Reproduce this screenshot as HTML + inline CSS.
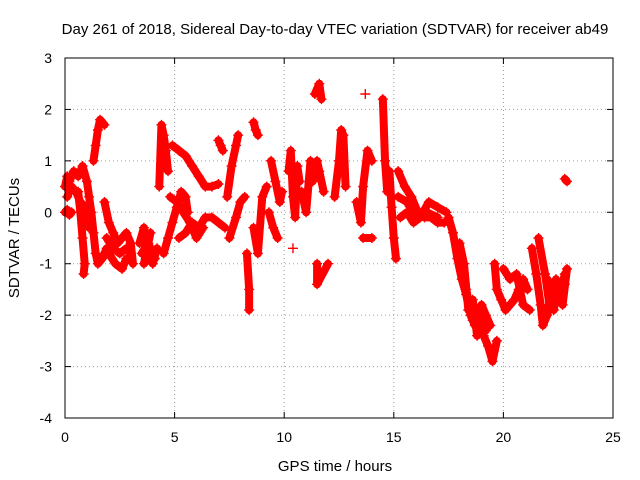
<!DOCTYPE html>
<html><head><meta charset="utf-8"><style>
body{margin:0;background:#fff;}
svg{display:block;font-family:"Liberation Sans",sans-serif;}
</style></head><body>
<svg id="c" width="640" height="480">
<text x="335" y="34" font-size="15" text-anchor="middle">Day 261 of 2018, Sidereal Day-to-day VTEC variation (SDTVAR) for receiver ab49</text>
<text x="335" y="471" font-size="15" text-anchor="middle">GPS time / hours</text>
<text x="19" y="238" font-size="15" text-anchor="middle" transform="rotate(-90 19 238)">SDTVAR / TECUs</text>
<g id="grid"></g><g id="marks"></g>
<rect x="65" y="58" width="548" height="360" fill="none" stroke="#000"/>
</svg>
<script>
const xTicks=[0,5,10,15,20,25];
const yTicks=[3,2,1,0,-1,-2,-3,-4];
const tracksX=[
[0,0.1,0.2,0.3],
[0,0.1,0.2,0.4,0.6,0.8,1.0,1.1,1.2,1.3,1.4,1.5,1.7,1.9],
[0.1,0.3,0.5,0.7,0.9,1.1],
[0.6,0.7,0.8,0.9,0.85],
[1.3,1.4,1.5,1.6,1.8],
[1.8,2.0,2.2,2.4,2.6,2.8,3.0,3.1],
[2.0,2.3,2.6,2.8],
[1.9,2.2,2.5,2.8,3.0],
[3.4,3.6,3.8,4.0,4.2,3.6,3.9],
[3.5,3.8,4.1],
[4.3,4.4,4.5,4.6,4.7],
[4.5,4.7,4.9,5.1,5.3,5.5,5.6],
[4.9,5.2,5.5,5.8,6.1,6.4,6.7,7.0],
[5.2,5.5,5.8,6.1,6.4,6.7,7.0,7.3],
[4.8,5.1,5.4,5.7,6.0,6.3],
[7.0,7.1,7.2],
[7.4,7.6,7.8,7.9],
[7.5,7.8,8.0,8.2],
[8.3,8.4,8.4],
[8.6,8.7,8.8],
[8.6,8.8,9.0,9.2],
[9.4,9.6,9.8,9.9],
[9.3,9.5,9.7],
[10.2,10.3,10.4,10.5,10.6,10.7],
[10.4],
[10.8,11.0,11.2],
[11.4,11.6,11.7],
[11.3,11.5,11.6,11.8],
[11.5,11.5,12.0],
[12.3,12.5,12.6,12.7,12.8],
[13.3,13.5,13.6,13.8,14.0],
[13.7],[13.6,14.0],
[14.5,14.6,14.7,14.8,14.9,15.0,15.1],
[15.2,15.5,15.8,16.1,16.4,16.7,17.0,17.3],
[15.3,15.6,15.9,16.2,16.6,17.0,17.4],
[15.2,15.6,16.0,16.5,17.0],
[17.5,17.7,17.9,18.1,18.3,18.5,18.7,18.9,19.1,19.3,19.5,19.7],
[18.0,18.2,18.4,18.6,18.8,19.0,19.2,19.4],
[18.3,18.6,18.9,19.2],
[19.6,19.7,19.9,20.1,20.3,20.5,20.7,20.9,21.1],
[20.0,20.3,20.6,20.9,21.2],
[21.3,21.5,21.7,21.8,22.0,22.2,22.4,22.6,22.8],
[21.6,21.9,22.1,22.3,22.5,22.7,22.9],
[22.0,22.4,22.8],
[22.8,22.9]
];
const tracksY=[
[0,0.05,-0.05,0],
[0.5,0.7,0.6,0.8,0.7,0.9,0.6,0.3,0.0,-0.4,-0.8,-1.0,-0.9,-0.7],
[0.3,0.5,0.4,0.2,0.1,-0.3],
[0.4,0.0,-0.5,-1.0,-1.2],
[1.0,1.3,1.6,1.8,1.7],
[0.2,-0.2,-0.4,-0.6,-0.5,-0.4,-0.6,-1.0],
[-0.8,-1.0,-1.1,-0.9],
[-0.5,-0.7,-0.8,-0.7,-0.8],
[-0.6,-0.3,-0.8,-1.0,-0.7,-1.0,-0.4],
[-0.8,-0.6,-0.9],
[0.5,1.7,1.5,1.2,0.8],
[-0.8,-0.5,-0.2,0.1,0.4,0.3,0.0],
[1.3,1.2,1.1,0.9,0.7,0.5,0.5,0.55],
[-0.5,-0.4,-0.2,-0.3,-0.1,-0.1,-0.2,-0.3],
[0.3,0.2,0.0,-0.2,-0.5,-0.3],
[1.4,1.3,1.2],
[0.3,0.9,1.3,1.5],
[-0.5,-0.1,0.2,0.3],
[-0.8,-1.5,-1.9],
[1.75,1.6,1.5],
[-0.3,-0.8,0.3,0.5],
[1.0,0.6,0.2,0.4],
[0.0,-0.3,-0.5],
[0.8,1.2,0.3,-0.1,0.9,0.6],
[-0.7],
[0.4,0.0,1.0],
[2.3,2.5,2.2],
[0.6,1.0,0.8,0.4],
[-1.0,-1.4,-1.0],
[0.3,1.0,1.6,1.5,0.5],
[0.2,-0.2,0.5,1.2,1.0],
[2.3],[-0.5,-0.5],
[2.2,1.0,0.4,0.8,0.1,-0.5,-0.9],
[0.8,0.5,0.3,0.0,-0.1,-0.1,-0.2,-0.2],
[-0.1,0.0,-0.2,-0.1,0.2,0.1,0.0],
[0.3,0.2,-0.1,0.0,-0.1],
[-0.1,-0.4,-0.9,-1.3,-1.6,-2.0,-2.2,-2.1,-2.4,-2.6,-2.9,-2.5],
[-0.6,-1.0,-1.9,-1.7,-2.4,-1.8,-2.0,-2.2],
[-1.5,-2.1,-1.9,-2.3],
[-1.0,-1.5,-1.7,-1.9,-1.8,-1.7,-1.5,-1.3,-1.5],
[-1.1,-1.3,-1.2,-1.8,-1.9],
[-0.7,-1.2,-1.8,-2.2,-2.0,-1.5,-1.3,-1.6,-1.2],
[-0.5,-1.2,-1.8,-1.9,-1.4,-1.8,-1.1],
[-1.3,-1.6,-1.4],
[0.65,0.6]
];
const NS='http://www.w3.org/2000/svg';
const sx=v=>65+v*21.92, sy=v=>58+(3-v)*51.43;
const g=document.getElementById('grid'), m=document.getElementById('marks');
function el(t,a,p){const e=document.createElementNS(NS,t);for(const k in a)e.setAttribute(k,a[k]);p.appendChild(e);return e;}
xTicks.forEach(t=>{
 if(t>0&&t<25){const l=el('line',{x1:sx(t),x2:sx(t),y1:58,y2:418,stroke:'#a0a0a0','stroke-dasharray':'1,3'},g);
 
 }
 el('line',{x1:sx(t),x2:sx(t),y1:418,y2:412,stroke:'#000'},g);
 el('line',{x1:sx(t),x2:sx(t),y1:58,y2:64,stroke:'#000'},g);
 const tx=el('text',{x:sx(t),y:442,'font-size':14,'text-anchor':'middle'},g);tx.textContent=t;
 
 
});
yTicks.forEach(t=>{
 if(t<3&&t>-4){const l=el('line',{x1:65,x2:613,y1:sy(t),y2:sy(t),stroke:'#a0a0a0','stroke-dasharray':'1,3'},g);
 
 }
 el('line',{x1:65,x2:71,y1:sy(t),y2:sy(t),stroke:'#000'},g);
 el('line',{x1:607,x2:613,y1:sy(t),y2:sy(t),stroke:'#000'},g);
 const tx=el('text',{x:52,y:sy(t)+5,'font-size':14,'text-anchor':'end'},g);tx.textContent=t;
 
 
});
tracksX.forEach((xs,i)=>{
 const ys=tracksY[i];
 const pts=xs.map((x,j)=>sx(x)+','+sy(ys[j])).join(' ');
 if(xs.length>1){const pl=el('polyline',{points:pts,fill:'none',stroke:'#f00','stroke-width':8,'stroke-linejoin':'round','stroke-linecap':'round'},m);
 
 }
 xs.forEach((x,j)=>{
  const X=sx(x),Y=sy(ys[j]);
  const p=el('path',{d:`M${X-5},${Y}h10M${X},${Y-5}v10`,stroke:'#f00','stroke-width':1.4},m);
  
  
 });
});
</script>
</body></html>
